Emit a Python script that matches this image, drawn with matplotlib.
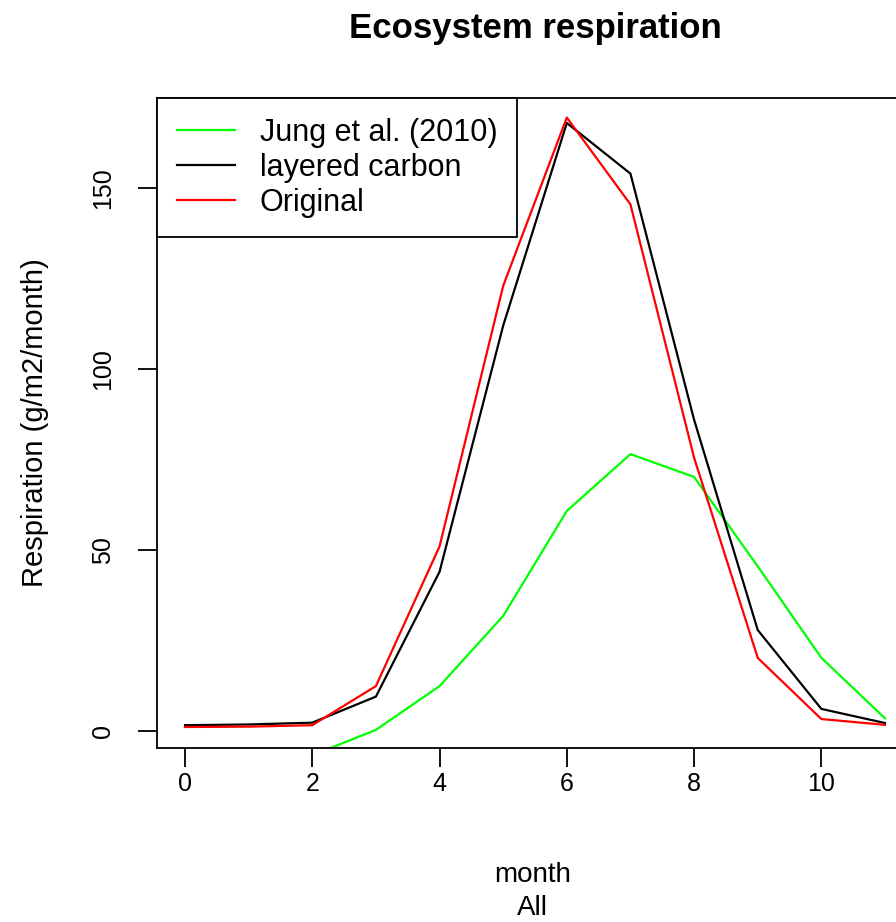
import matplotlib
matplotlib.use("Agg")
import matplotlib.pyplot as plt

plt.rcParams['font.family'] = ['Liberation Sans', 'DejaVu Sans']

months = [0, 1, 2, 3, 4, 5, 6, 7, 8, 9, 10, 11]
jung = [-9.0, -8.5, -6.7, 0.3, 12.4, 31.8, 60.8, 76.5, 70.2, 45.5, 20.2, 3.5]
layered = [1.6, 1.8, 2.3, 9.5, 44.0, 112.0, 168.0, 154.0, 86.0, 27.9, 6.1, 2.2]
original = [1.1, 1.2, 1.6, 12.4, 51.0, 123.0, 169.5, 145.5, 75.5, 20.2, 3.3, 1.7]

series_labels = ["Jung et al. (2010)", "layered carbon", "Original"]
series_colors = ["#00ff00", "#000000", "#ff0000"]

W, H = 896, 922
fig = plt.figure(figsize=(W / 100, H / 100), dpi=100)
x0, x1, y0, y1 = 157, 913, 98, 748
ax = fig.add_axes([x0 / W, 1 - y1 / H, (x1 - x0) / W, (y1 - y0) / H])

for vals, lab, col in zip([jung, layered, original], series_labels, series_colors):
    ax.plot(months, vals, color=col, lw=1.6, label=lab)

ax.set_xlim(-0.44, 11.44)
ax.set_ylim(-4.7, 174.9)
ax.set_xticks([0, 2, 4, 6, 8, 10])
ax.set_yticks([0, 50, 100, 150])
ax.tick_params(axis='both', length=14, width=1.3, labelsize=18)
ax.tick_params(axis='x', pad=3)
ax.tick_params(axis='y', pad=16)
for lbl in ax.get_yticklabels():
    lbl.set_rotation(90)
    lbl.set_va('center')
for sp in ax.spines.values():
    sp.set_linewidth(1.3)

ax.set_title("Ecosystem respiration", fontsize=25, fontweight='bold', pad=43)
ax.set_xlabel("month", fontsize=20, va='center')
ax.xaxis.set_label_coords(0.497, -(875 - y1) / (y1 - y0))
ax.set_ylabel("Respiration (g/m2/month)", fontsize=21, va='center')
ax.yaxis.set_label_coords(-(x0 - 35) / (x1 - x0), 0.5)
ax.text(0.497, -(908 - y1) / (y1 - y0), "All", transform=ax.transAxes,
        fontsize=20, ha='center', va='center')

leg = ax.legend(loc='upper left', borderaxespad=0, fancybox=False, edgecolor='black',
                framealpha=1, fontsize=22, handlelength=1.9, handletextpad=0.82,
                borderpad=0.65, labelspacing=0.16)
leg.get_frame().set_linewidth(1.3)

fig.savefig("out.png", dpi=100)
